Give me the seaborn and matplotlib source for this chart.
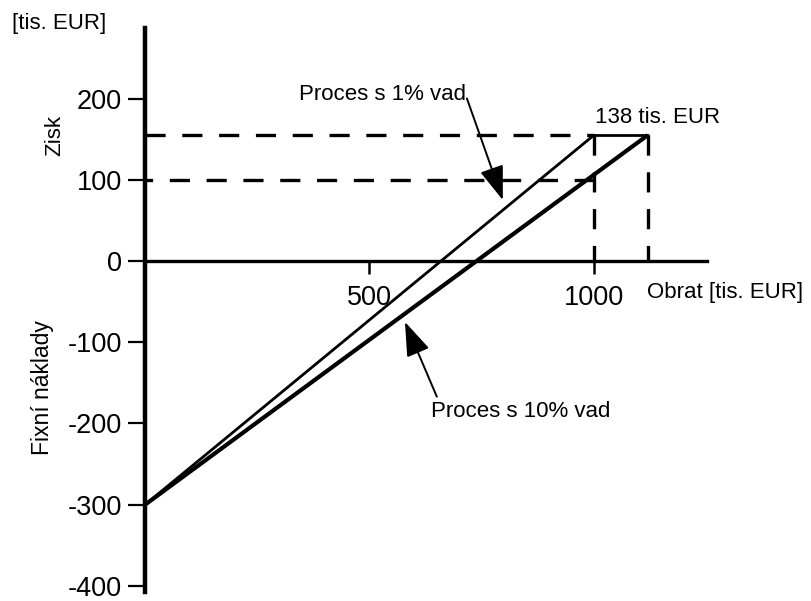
import matplotlib
matplotlib.use("Agg")
import matplotlib.pyplot as plt
import seaborn as sns
import pandas as pd

# ---- data ----
turnover_1pct = [0, 1000]
profit_1pct = [-300, 155]
turnover_10pct = [0, 1120]
profit_10pct = [-300, 155]
profit_10pct_at_1000 = 100
x_ticks = [500, 1000]
x_tick_labels = ["500", "1000"]
y_ticks = [-400, -300, -200, -100, 0, 100, 200]
y_tick_labels = ["-400", "-300", "-200", "-100", "0", "100", "200"]
label_1pct = "Proces s 1% vad"
label_10pct = "Proces s 10% vad"
label_max = "138 tis. EUR"

sns.set_style("white")
plt.rcParams['font.family'] = ['Liberation Sans', 'DejaVu Sans']
plt.rcParams['lines.scale_dashes'] = False
plt.rcParams['text.color'] = 'black'
plt.rcParams['xtick.color'] = 'black'
plt.rcParams['ytick.color'] = 'black'

fig = plt.figure(figsize=(8.11, 6.01), dpi=100)
ax = fig.add_axes([145/811, 9/601, 562/811, 564/601])
ax.set_xlim(0, 1251.7)
ax.set_ylim(-407.4, 286.8)

df1 = pd.DataFrame({"x": turnover_1pct, "y": profit_1pct})
df10 = pd.DataFrame({"x": turnover_10pct, "y": profit_10pct})
sns.lineplot(data=df1, x="x", y="y", ax=ax, color="black", lw=2.0, solid_capstyle="butt")
sns.lineplot(data=df10, x="x", y="y", ax=ax, color="black", lw=3.0, solid_capstyle="butt")

dash = (0, (14.5, 12.0))
top = profit_1pct[-1]
x1 = turnover_1pct[-1]
x10 = turnover_10pct[-1]
ax.plot([0, x1], [top, top], color="black", lw=2.4, linestyle=dash)
ax.plot([0, x1], [profit_10pct_at_1000, profit_10pct_at_1000], color="black", lw=2.4,
        linestyle=(9, (14.5, 12.0)))
ax.plot([x1, x1], [top, 0], color="black", lw=2.4, linestyle=dash)
ax.plot([x10, x10], [top, 0], color="black", lw=2.4, linestyle=dash)
ax.plot([x1, x10], [top, top], color="black", lw=2.0)

# axes styling
for s in ["top", "right"]:
    ax.spines[s].set_visible(False)
ax.spines["left"].set_linewidth(3.2)
ax.spines["left"].set_color("black")
ax.spines["bottom"].set_position(("data", 0))
ax.spines["bottom"].set_linewidth(2.4)
ax.spines["bottom"].set_color("black")

ax.set_xticks(x_ticks)
ax.set_xticklabels(x_tick_labels)
ax.set_yticks(y_ticks)
ax.set_yticklabels(y_tick_labels)
ax.tick_params(axis="y", direction="out", length=12.5, width=1.6, pad=4, labelsize=19.5,
               left=True, colors="black")
ax.tick_params(axis="x", direction="out", length=9.5, width=1.8, pad=7.5, labelsize=19.5,
               bottom=True, colors="black")
ax.set_xlabel("")
ax.set_ylabel("")
ax.grid(False)

# texts
ax.text(1002, 164, label_max, fontsize=16, ha="left", va="bottom", color="black")
ax.text(1118, -39, "Obrat [tis. EUR]", fontsize=16, ha="left", va="center", color="black")
fig.text(12/811, 1 - 24/601, "[tis. EUR]", fontsize=16, ha="left", va="center", color="black")
fig.text(55/811, 1 - 135/601, "Zisk", fontsize=16, rotation=90, ha="center", va="center",
         color="black")
fig.text(43/811, 1 - 388/601, "Fixní náklady", fontsize=16.5, rotation=90, ha="center",
         va="center", color="black")

arrow = dict(arrowstyle="-|>,head_length=0.85,head_width=0.3", color="black", lw=1.4,
             mutation_scale=25, shrinkA=0, shrinkB=0)
ax.text(530, 205, label_1pct, fontsize=16, ha="center", va="center", color="black")
ax.annotate("", xy=(797, 75), xytext=(717, 200), arrowprops=arrow)
ax.text(837, -185, label_10pct, fontsize=16, ha="center", va="center", color="black")
ax.annotate("", xy=(579, -75), xytext=(650, -167), arrowprops=arrow)

fig.savefig("out.png", dpi=100)
